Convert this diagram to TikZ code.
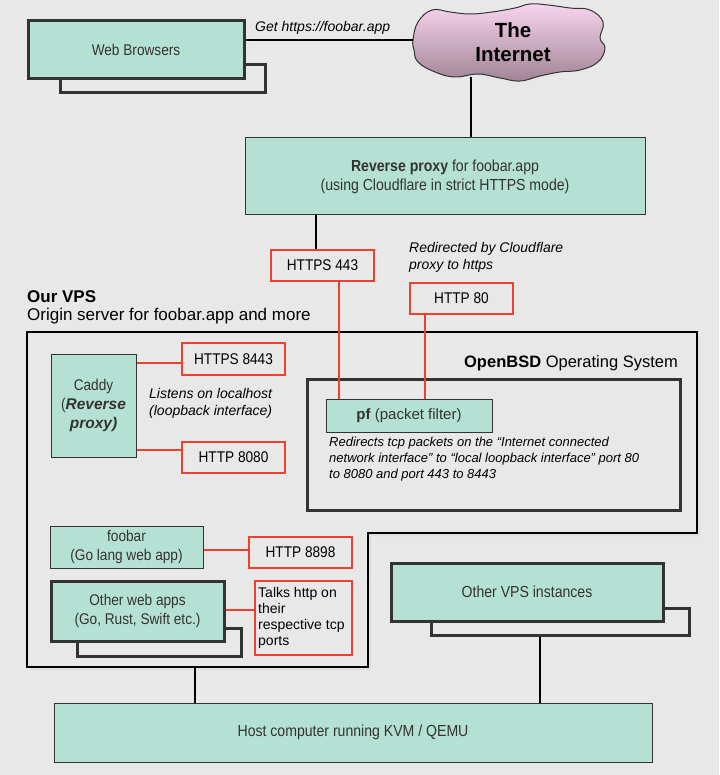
\documentclass[tikz,border=0pt]{standalone}
\usepackage{fontspec}
\setmainfont{Liberation Sans}
\newfontfamily\cond{Liberation Sans}[FakeStretch=0.88]
\usetikzlibrary{calc}
\definecolor{bg}{HTML}{E8E8E8}
\definecolor{mint}{HTML}{B5E1D4}
\definecolor{ink}{HTML}{333333}
\definecolor{redl}{HTML}{F2402F}
\definecolor{pinktop}{HTML}{F9D5EF}
\definecolor{pinkbot}{HTML}{A08494}
\tikzset{
  box/.style={draw=ink, fill=mint, line width=1pt, inner sep=0pt, text=ink, align=center,
    font=\cond\fontsize{15.5}{19}\selectfont},
  thickbox/.style={box, line width=3pt},
  shadowbox/.style={draw=ink, fill=bg, line width=3pt, inner sep=0pt},
  redbox/.style={draw=redl, line width=2.2pt, inner sep=0pt, text=black, align=center,
    font=\cond\fontsize{15.5}{19}\selectfont},
  conn/.style={draw=black, line width=2.5pt},
  redconn/.style={draw=redl, line width=2.5pt},
  note/.style={inner sep=0pt, align=left, text=black, font=\itshape\fontsize{14}{17}\selectfont},
}
\begin{document}
\begin{tikzpicture}[x=1pt,y=-1pt]
\fill[bg] (0,0) rectangle (719,775);
\useasboundingbox (0,0) rectangle (719,775);

% Web browsers
\node[shadowbox, minimum width=205pt, minimum height=28pt] (webshadow) at (162.5,79) {};
\node[thickbox, minimum width=216pt, minimum height=58pt] (web) at (136,50) {Web Browsers};
\node[note, anchor=west] (gettxt) at (255,28) {Get https://foobar.app};

% Cloud
\shade[top color=pinktop, bottom color=pinkbot, draw=ink, line width=1pt]
  plot[smooth cycle, tension=0.7] coordinates {(413,40) (418,22) (432,10) (450,12) (470,14) (492,12)
  (515,8) (530,4) (548,5) (570,8) (590,10) (603,22) (600,38) (605,48) (598,62) (580,70) (560,72)
  (540,76) (520,81) (500,78) (478,74) (455,77) (435,72) (418,62) (414,50)};
\node[align=center, font=\bfseries\fontsize{20.5}{24}\selectfont, text=black] (inet) at (513,42) {The\\Internet};
\coordinate (cloudL) at (413,40);
\coordinate (cloudB) at (471,77);

% Reverse proxy
\node[box, minimum width=400pt, minimum height=77pt, font=\cond\fontsize{16}{19}\selectfont] (proxy) at (445,176.5)
  {\textbf{Reverse proxy} for foobar.app\\(using Cloudflare in strict HTTPS mode)};

\draw[conn] ([yshift=10pt]web.east) -- (cloudL);
\draw[conn] (cloudB) -- (proxy.north -| cloudB);

% HTTPS 443 / HTTP 80
\node[redbox, minimum width=103pt, minimum height=31pt] (https443) at (322.5,265.5) {HTTPS 443};
\node[redbox, minimum width=103pt, minimum height=31pt] (http80) at (461.5,298.5) {HTTP 80};
\node[note, anchor=west] (redir) at (409,257.5) {Redirected by Cloudflare\\proxy to https};
\coordinate (x316) at (316,0);
\draw[conn] (proxy.south -| x316) -- (https443.north -| x316);

% Our VPS
\node[inner sep=0pt, anchor=west, font=\bfseries\fontsize{17}{20}\selectfont] (vpstitle) at (27,297) {Our VPS};
\node[inner sep=0pt, anchor=west, font=\fontsize{17}{20}\selectfont] (vpssub) at (27,316) {Origin server for foobar.app and more};
\fill[black!12] (30,335) -- (700,335) -- (700,536) -- (371,536) -- (371,670) -- (30,670) -- cycle;
\draw[black, line width=2pt, fill=bg] (27,332) -- (697,332) -- (697,533) -- (368,533) -- (368,667) -- (27,667) -- cycle;
\coordinate (vpsB) at (195,667);

% OpenBSD
\node[inner sep=0pt, anchor=east, font=\fontsize{16.5}{20}\selectfont] (osl) at (678,363) {\textbf{OpenBSD} Operating System};
\node[draw=ink, line width=3pt, minimum width=373pt, minimum height=131pt, inner sep=0pt] (osbox) at (493.5,444.5) {};
\node[box, minimum width=166pt, minimum height=33pt, font=\fontsize{15}{18}\selectfont] (pf) at (409,415.5) {\textbf{pf} (packet filter)};
\node[note, anchor=west, font=\itshape\fontsize{13}{16}\selectfont] (redirtxt) at (329,459)
  {Redirects tcp packets on the “Internet connected\\network interface” to “local loopback interface” port 80\\to 8080 and port 443 to 8443};
\coordinate (x339) at (339,0);
\coordinate (x425) at (425,0);
\draw[redconn] (https443.south -| x339) -- (pf.north -| x339);
\draw[redconn] (http80.south -| x425) -- (pf.north -| x425);

% Caddy
\node[box, minimum width=85pt, minimum height=103pt] (caddy) at (93.5,405.5)
  {Caddy\\(\textbf{\textit{\fontspec{Liberation Sans}Reverse}}\\\textbf{\textit{\fontspec{Liberation Sans}proxy)}}};
\node[redbox, minimum width=103pt, minimum height=32pt] (https8443) at (233.5,359) {HTTPS 8443};
\node[redbox, minimum width=103pt, minimum height=31pt] (http8080) at (233.5,457.5) {HTTP 8080};
\node[note, anchor=west] (listens) at (149,403) {Listens on localhost\\(loopback interface)};
\coordinate (y363) at (0,363);
\coordinate (y450) at (0,450);
\draw[redconn] (caddy.east |- y363) -- (https8443.west |- y363);
\draw[redconn] (caddy.east |- y450) -- (http8080.west |- y450);

% foobar
\node[box, minimum width=153pt, minimum height=42pt] (foobar) at (126.5,547) {foobar\\(Go lang web app)};
\node[redbox, minimum width=103pt, minimum height=31pt] (http8898) at (300.5,552.5) {HTTP 8898};
\coordinate (y550) at (0,550);
\draw[redconn] (foobar.east |- y550) -- (http8898.west |- y550);

% Other web apps
\node[shadowbox, minimum width=164pt, minimum height=28pt] (appsshadow) at (159,642) {};
\node[thickbox, minimum width=173pt, minimum height=60pt] (apps) at (137.5,611) {Other web apps\\(Go, Rust, Swift etc.)};
\node[redbox, minimum width=97pt, minimum height=74pt] (talks) at (303.5,618) {};
\node[inner sep=0pt, anchor=west, align=left, font=\fontsize{14}{16}\selectfont] (talkstxt) at (258,618)
  {Talks http on\\their\\respective tcp\\ports};
\coordinate (y610) at (0,610);
\draw[redconn] (apps.east |- y610) -- (talks.west |- y610);

% Other VPS
\node[shadowbox, minimum width=258pt, minimum height=27pt] (vpsshadow) at (560,621.5) {};
\node[thickbox, minimum width=272pt, minimum height=58pt, font=\cond\fontsize{16}{19}\selectfont] (othervps) at (527,592) {Other VPS instances};

% Host
\node[box, minimum width=598pt, minimum height=59pt, font=\cond\fontsize{16}{19}\selectfont] (host) at (353,732.5) {Host computer running KVM / QEMU};
\coordinate (x540) at (540,0);
\draw[conn] (vpsshadow.south -| x540) -- (host.north -| x540);
\draw[conn] (vpsB) -- (host.north -| vpsB);
\end{tikzpicture}
\end{document}
